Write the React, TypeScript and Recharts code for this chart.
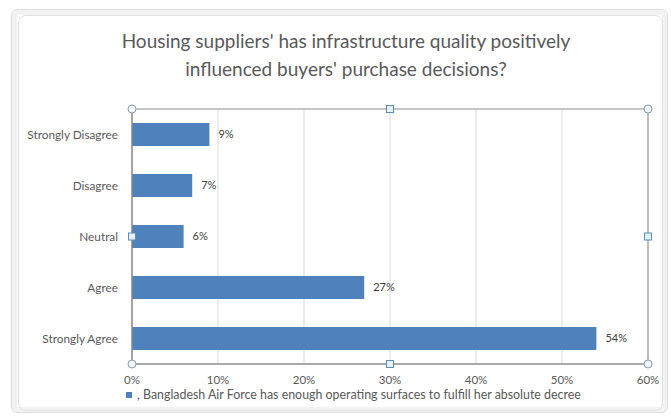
import React from "react";
import { BarChart, Bar, XAxis, YAxis, CartesianGrid, LabelList, ReferenceArea } from "recharts";

const categories = ["Strongly Disagree", "Disagree", "Neutral", "Agree", "Strongly Agree"];
const values = [0.09, 0.07, 0.06, 0.27, 0.54];
const xTicks = [0, 0.1, 0.2, 0.3, 0.4, 0.5, 0.6];
const seriesName = ", Bangladesh Air Force has enough operating surfaces to fulfill her absolute decree";
const titleLines = [
  "Housing suppliers' has infrastructure quality positively",
  "influenced buyers' purchase decisions?",
];

const data = categories.map((c, i) => ({ category: c, value: values[i] }));

const W = 671;
const H = 416;
const PLOT_LEFT = 132;
const PLOT_RIGHT = 648;
const PLOT_TOP = 109;
const PLOT_BOTTOM = 364;
const FONT = "Lato, 'Open Sans', sans-serif";
const TEXT = "#595959";

const pct = (v: number) => `${Math.round(v * 100)}%`;

function Handles() {
  const midX = (PLOT_LEFT + PLOT_RIGHT) / 2;
  const midY = (PLOT_TOP + PLOT_BOTTOM) / 2;
  const circles = [
    [PLOT_LEFT, PLOT_TOP],
    [PLOT_RIGHT, PLOT_TOP],
    [PLOT_LEFT, PLOT_BOTTOM],
    [PLOT_RIGHT, PLOT_BOTTOM],
  ];
  const squares = [
    [midX, PLOT_TOP],
    [midX, PLOT_BOTTOM],
    [PLOT_LEFT, midY],
    [PLOT_RIGHT, midY],
  ];
  return (
    <svg width={W} height={H} style={{ position: "absolute", left: 0, top: 0, pointerEvents: "none" }}>
      {circles.map(([x, y], i) => (
        <circle key={"c" + i} cx={x} cy={y} r={4} fill="#eef5fb" stroke="#8a9bab" strokeWidth={1} />
      ))}
      {squares.map(([x, y], i) => (
        <rect key={"s" + i} x={x - 3.5} y={y - 3.5} width={7} height={7} fill="#e6f2fb" stroke="#5b8db8" strokeWidth={1} />
      ))}
    </svg>
  );
}

export default function App() {
  return (
    <div style={{ position: "absolute", left: 0, top: 0, width: W, height: H, background: "#fff", overflow: "hidden" }}>
      <div
        style={{
          position: "absolute",
          left: 11,
          top: 9,
          width: 657,
          height: 404,
          boxSizing: "border-box",
          border: "1px solid #dedede",
          borderRadius: 6,
          boxShadow: "inset 0 0 0 5px #f2f2f2",
        }}
      />
      <div
        style={{
          position: "absolute",
          left: 18,
          top: 15,
          width: 645,
          height: 396,
          boxSizing: "border-box",
          border: "1px solid #e2e2e2",
          borderRadius: 8,
        }}
      />
      {titleLines.map((t, i) => (
        <div
          key={i}
          style={{
            position: "absolute",
            left: 0,
            width: 692,
            top: 29 + i * 28,
            textAlign: "center",
            fontFamily: FONT,
            fontSize: 19,
            color: TEXT,
            whiteSpace: "nowrap",
          }}
        >
          {t}
        </div>
      ))}
      <div style={{ position: "absolute", left: 0, top: 0 }}>
        <BarChart
          width={W}
          height={H}
          layout="vertical"
          data={data}
          margin={{ top: PLOT_TOP, right: W - PLOT_RIGHT, bottom: H - PLOT_BOTTOM - 22, left: 12 }}
        >
          <CartesianGrid horizontal={false} stroke="#d9d9d9" />
          <XAxis
            type="number"
            domain={[0, 0.6]}
            ticks={xTicks}
            tickFormatter={pct}
            axisLine={{ stroke: "#8c8c8c" }}
            tickLine={false}
            height={22}
            tick={{ fill: TEXT, fontSize: 11.5, fontFamily: FONT }}
            tickMargin={6}
          />
          <YAxis
            type="category"
            dataKey="category"
            width={PLOT_LEFT - 12}
            axisLine={{ stroke: "#8c8c8c" }}
            tickLine={false}
            tick={{ fill: TEXT, fontSize: 11.8, fontFamily: FONT }}
            tickMargin={8}
          />
          <ReferenceArea x1={0} x2={0.6} fill="none" fillOpacity={0} stroke="#8c8c8c" strokeWidth={1} />
          <Bar dataKey="value" name={seriesName} fill="#4f81bd" barSize={23} isAnimationActive={false}>
            <LabelList
              dataKey="value"
              position="right"
              offset={9}
              formatter={(v: any) => pct(Number(v))}
              style={{ fill: "#404040", fontSize: 11, fontFamily: FONT }}
            />
          </Bar>
        </BarChart>
      </div>
      <div
        style={{
          position: "absolute",
          left: 126,
          top: 387,
          fontFamily: FONT,
          fontSize: 12.4,
          color: TEXT,
          whiteSpace: "nowrap",
          display: "flex",
          alignItems: "center",
        }}
      >
        <span style={{ display: "inline-block", width: 6, height: 6, background: "#4f81bd", marginRight: 5 }} />
        <span>{seriesName}</span>
      </div>
      <Handles />
    </div>
  );
}
